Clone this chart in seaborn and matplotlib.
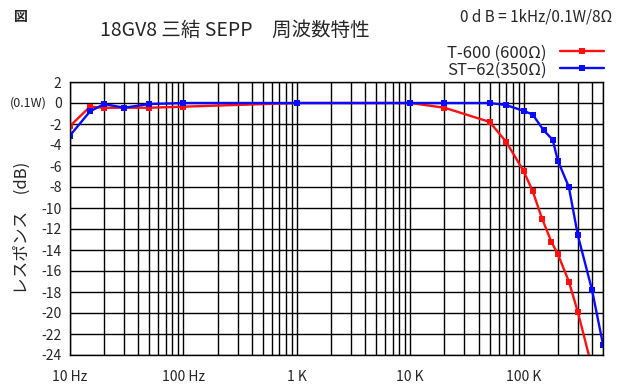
import pandas as pd
import matplotlib
matplotlib.use("Agg")
import matplotlib.pyplot as plt
import seaborn as sns

# Frequency response values (Hz, dB)
t600_freq = [10, 15, 20, 30, 50, 100, 1000, 10000, 20000, 50000, 70000,
             100000, 120000, 145000, 175000, 200000, 250000, 300000, 400000]
t600_db = [-2.2, -0.35, -0.45, -0.45, -0.45, -0.35, 0.0, 0.0, -0.45, -1.8, -3.7,
           -6.5, -8.4, -11.0, -13.2, -14.4, -17.0, -19.9, -25.2]

st62_freq = [10, 15, 20, 30, 50, 100, 1000, 10000, 20000, 50000, 70000,
             100000, 120000, 150000, 180000, 200000, 250000, 300000, 400000, 500000]
st62_db = [-3.1, -0.8, -0.1, -0.45, -0.1, 0.0, 0.0, 0.0, 0.0, 0.0, -0.2,
           -0.75, -1.1, -2.6, -3.5, -5.5, -8.0, -12.6, -17.8, -23.0]

series_names = ["T-600 (600Ω)", "ST\u221262(350Ω)"]
series_colors = ["#ff1010", "#0a0aff"]

x_ticks = [10, 100, 1000, 10000, 100000]
x_tick_labels = ["10 Hz", "100 Hz", "1 K", "10 K", "100 K"]
y_ticks = list(range(-24, 3, 2))

df = pd.concat([
    pd.DataFrame({"freq": t600_freq, "db": t600_db, "series": series_names[0]}),
    pd.DataFrame({"freq": st62_freq, "db": st62_db, "series": series_names[1]}),
])

sns.set_style("white")
plt.rcParams["font.family"] = ["Noto Sans CJK JP", "DejaVu Sans"]

fig = plt.figure(figsize=(6.2, 3.9), dpi=100)
ax = fig.add_axes([70 / 620, 1 - 355 / 390, 533 / 620, 273 / 390])

sns.lineplot(data=df, x="freq", y="db", hue="series", style="series",
             palette=dict(zip(series_names, series_colors)),
             markers={n: "s" for n in series_names}, dashes=False,
             sort=False, estimator=None, linewidth=1.7, markersize=4.5,
             markeredgewidth=0, ax=ax)

ax.set_xscale("log")
ax.set_xlim(10, 500000)
ax.set_ylim(-24, 2)

# Grid: every decade subdivision and every 2 dB
ax.set_xticks(x_ticks)
ax.set_xticklabels(x_tick_labels)
ax.set_yticks(y_ticks)
ax.set_yticklabels([str(v) for v in y_ticks])
ax.grid(True, which="both", axis="x", color="black", linewidth=1.0)
ax.grid(True, which="major", axis="y", color="black", linewidth=1.0)
ax.set_axisbelow(True)
for s in ax.spines.values():
    s.set_color("black")
    s.set_linewidth(1.0)
ax.tick_params(axis="both", which="both", length=0)
ax.tick_params(axis="x", pad=11, labelsize=10)
ax.tick_params(axis="y", pad=6, labelsize=10)
ax.set_xlabel("")
ax.set_ylabel("")

ax.legend(loc="upper right", bbox_to_anchor=(612 / 620, 1 - 36 / 390),
          bbox_transform=fig.transFigure, frameon=False, markerfirst=False,
          fontsize=12, handlelength=2.6, labelspacing=0.0, borderpad=0,
          handletextpad=0.8)

fig.text(14 / 620, 1 - 17 / 390, "図", fontsize=10, fontweight="bold", va="center")
fig.text(100 / 620, 1 - 30 / 390, "18GV8 三結 SEPP　周波数特性", fontsize=14, va="center")
fig.text(612 / 620, 1 - 17 / 390, "0 d B = 1kHz/0.1W/8Ω", fontsize=11, va="center", ha="right")
fig.text(10 / 620, 1 - 103 / 390, "(0.1W)", fontsize=9, va="center")
fig.text(22 / 620, 1 - 228 / 390, "レスポンス　(dB)", fontsize=12, rotation=90,
         va="center", ha="center")

fig.savefig("out.png", dpi=100)
